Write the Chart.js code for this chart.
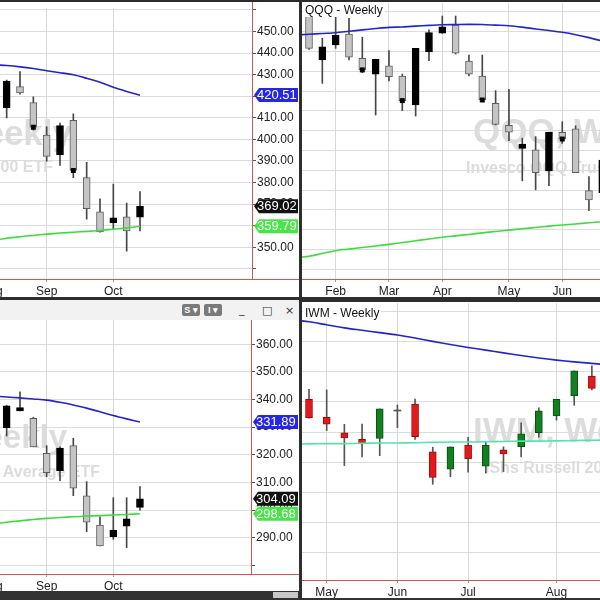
<!DOCTYPE html>
<html><head><meta charset="utf-8">
<script src="https://cdn.jsdelivr.net/npm/chart.js@4.4.1/dist/chart.umd.min.js"></script>
<style>
html,body{margin:0;padding:0;background:#fff;width:600px;height:600px;overflow:hidden;font-family:"Liberation Sans",Arial,sans-serif}
.abs{position:absolute}
canvas{display:block}
.btn{position:absolute;top:304px;height:12px;background:#7a7a7a;color:#fff;font:bold 9px "Liberation Sans",Arial,sans-serif;line-height:12px;border-radius:2px;text-align:center}
.ico{position:absolute;color:#333;font:11px "DejaVu Sans",sans-serif}
</style></head><body>
<div class="abs" style="left:0;top:0;width:299px;height:297px"><canvas id="c1" width="299" height="297"></canvas></div>
<div class="abs" style="left:302px;top:0;width:298px;height:297px"><canvas id="c2" width="298" height="297"></canvas></div>
<div class="abs" style="left:0;top:300px;width:299px;height:291px"><canvas id="c3" width="299" height="291"></canvas></div>
<div class="abs" style="left:302px;top:302px;width:298px;height:296px"><canvas id="c4" width="298" height="296"></canvas></div>

<div class="abs" style="left:0;top:0;width:600px;height:2px;background:#2b2b2b"></div>
<div class="abs" style="left:299px;top:0;width:3px;height:600px;background:#2e2e2e"></div>
<div class="abs" style="left:0;top:297px;width:600px;height:3px;background:#2e2e2e"></div>
<div class="abs" style="left:302px;top:300px;width:298px;height:2px;background:#2e2e2e"></div>
<div class="abs" style="left:0;top:300px;width:299px;height:20px;background:#f2f2f2"></div>
<div class="btn" style="left:182px;width:18px">S ▾</div>
<div class="btn" style="left:204px;width:18px">I ▾</div>
<div class="ico" style="left:239px;top:303px">_</div>
<div class="ico" style="left:262px;top:304px">□</div>
<div class="ico" style="left:285px;top:304px">×</div>
<div class="abs" style="left:0;top:591px;width:299px;height:9px;background:#333"></div>
<div class="abs" style="left:273px;top:592px;width:25px;height:6px;background:#c8c8c8"></div>
<div class="abs" style="left:302px;top:598px;width:298px;height:2px;background:#333"></div>

<script>
const FONT = '"Liberation Sans", Arial, Helvetica, sans-serif';

// ---------- SPY weekly (top-left) ----------
const spyMonthNames = ['Aug', 'Sep', 'Oct'];
const spyMonthWeeks = [-1.1, 3, 8];
const spyOpen  = [414.7, 424.5, 417.1, 402.0, 392.9, 408.8, 382.3, 366.4, 361.4, 364.1, 364.0];
const spyHigh  = [427.5, 431.4, 419.7, 405.8, 407.6, 411.8, 389.4, 372.5, 379.3, 370.5, 375.8];
const spyLow   = [409.9, 420.9, 404.3, 389.9, 387.9, 382.3, 363.0, 357.0, 358.6, 348.2, 357.6];
const spyClose = [427.0, 421.5, 405.6, 392.1, 406.4, 385.6, 367.9, 357.1, 363.6, 357.6, 369.02];
const spyMarks = [2, 5];
const spyMaBlue  = [434.6, 434.2, 433.6, 432.8, 431.8, 430.9, 429.9, 428.3, 426.5, 424.1, 422.2, 420.51]; // weeks -1..10
const spyMaGreen = [353.2, 354.2, 354.9, 355.5, 356.1, 356.6, 357.0, 357.4, 357.8, 358.4, 359.0, 359.79];
const spyAxisLabels = [350, 360, 370, 380, 390, 400, 410, 420, 430, 440, 450];

// ---------- QQQ weekly (top-right) ----------
const qqqMonthNames = ['Feb', 'Mar', 'Apr', 'May', 'Jun'];
const qqqMonthWeeks = [2, 6, 10, 15, 19];
const qqqOpen  = [371.5, 345.7, 353.3, 358.8, 346.6, 338.6, 342.7, 337.6, 323.0, 349.9, 359.2, 363.4, 345.2, 337.6, 323.8, 312.7, 301.1, 300.3, 289.8, 309.2, 310.9, 279.7, 278.7];
const qqqHigh  = [374.0, 356.7, 367.9, 366.8, 357.2, 346.1, 350.4, 338.6, 351.6, 360.9, 367.9, 367.9, 348.2, 348.2, 330.2, 330.9, 306.2, 307.0, 309.2, 314.5, 312.5, 286.8, 297.0];
const qqqLow   = [351.0, 333.9, 351.6, 345.7, 339.3, 317.9, 335.1, 320.1, 317.4, 345.4, 359.2, 348.7, 337.6, 324.6, 312.9, 304.9, 284.7, 280.1, 282.2, 303.6, 288.8, 269.6, 277.0];
const qqqClose = [351.6, 352.4, 358.2, 347.1, 340.7, 346.1, 337.3, 325.2, 351.6, 359.5, 362.5, 349.1, 338.6, 325.5, 313.2, 309.2, 303.3, 288.8, 309.2, 305.8, 288.8, 275.0, 295.2];
const qqqMarks = [4, 7, 13, 19];
const qqqMaBlue  = [358.3, 358.7, 359.1, 359.5, 360.2, 360.9, 361.6, 362.2, 362.4, 362.8, 363.2, 363.5, 363.6, 363.7, 363.6, 363.3, 363.0, 362.3, 361.4, 360.6, 359.7, 358.5, 357.0, 355.3, 353.5]; // weeks -1..23
const qqqMaGreen = [245.9, 246.6, 248.0, 249.4, 250.2, 251.0, 251.8, 252.6, 253.5, 254.4, 255.3, 256.2, 256.9, 257.6, 258.4, 259.1, 259.8, 260.5, 261.1, 261.8, 262.4, 262.9, 263.5, 264.0, 264.5];

// ---------- DIA weekly (bottom-left) ----------
const diaMonthNames = ['Aug', 'Sep', 'Oct'];
const diaMonthWeeks = [-1.1, 3, 8];
const diaOpen  = [329.8, 335.9, 333.2, 320.5, 314.3, 323.3, 305.2, 294.6, 290.4, 294.2, 301.0];
const diaHigh  = [337.9, 342.8, 333.6, 323.3, 322.9, 326.0, 310.3, 297.6, 304.5, 304.5, 308.5];
const diaLow   = [326.8, 335.9, 322.9, 312.1, 310.6, 305.2, 292.2, 287.0, 289.4, 286.4, 300.0];
const diaClose = [337.7, 337.1, 322.9, 313.5, 322.4, 307.9, 295.6, 287.0, 292.8, 296.8, 304.09];
const diaMaBlue  = [341.3, 340.9, 340.6, 340.2, 339.8, 339.0, 338.0, 336.9, 335.6, 334.2, 333.0, 331.89]; // weeks -1..10
const diaMaGreen = [295.0, 295.6, 296.1, 296.6, 297.0, 297.3, 297.6, 297.8, 298.0, 298.2, 298.4, 298.68];
const diaAxisLabels = [290, 300, 310, 320, 330, 340, 350, 360];

// ---------- IWM weekly (bottom-right) ----------
const iwmMonthNames = ['May', 'Jun', 'Jul', 'Aug'];
const iwmMonthWeeks = [1, 5, 9, 14];
const iwmOpen  = [190.9, 184.9, 179.8, 177.6, 177.9, 187.0, 189.3, 173.5, 167.7, 175.7, 168.7, 174.1, 175.2, 179.8, 185.4, 192.1, 198.6];
const iwmHigh  = [194.2, 194.0, 182.6, 182.7, 187.7, 189.0, 191.0, 175.0, 175.1, 178.3, 176.7, 175.1, 183.1, 188.1, 190.9, 200.3, 202.0];
const iwmLow   = [184.6, 180.5, 168.9, 171.8, 172.2, 181.5, 177.6, 162.7, 165.2, 166.7, 166.4, 166.9, 171.8, 178.3, 184.0, 188.9, 194.0];
const iwmClose = [184.8, 182.6, 178.1, 176.1, 187.7, 187.0, 178.5, 165.0, 175.1, 171.2, 175.6, 172.8, 179.4, 187.1, 190.9, 200.3, 194.5];
const iwmMaBlue = [217.3, 216.6, 215.6, 214.6, 213.8, 213.0, 212.2, 211.2, 210.1, 209.1, 208.1, 207.2, 206.3, 205.4, 204.6, 203.9, 203.3, 202.8, 202.3]; // weeks -1..17
const iwmMaTeal = [176.0, 176.1, 176.2, 176.2, 176.3, 176.4, 176.4, 176.5, 176.6, 176.7, 176.7, 176.8, 176.9, 177.0, 177.0, 177.1, 177.2, 177.3, 177.4];

const MONO = {upFill:'#000000', upEdge:'#000000', downFill:'#c4c4c4', downEdge:'#5e5e5e', flat:'#444', wick:'#474747'};
const RG   = {upFill:'#12801f', upEdge:'#0a4f12', downFill:'#e5191b', downEdge:'#9a0d0d', flat:'#555', wick:'#555'};
const BLUE = '#2424cc', GREEN = '#3fdc3f', TEAL = '#55e2ab';

const decor = {
  id: 'decor',
  beforeDatasetsDraw(chart, args, o) {
    const {ctx, chartArea: a} = chart;
    ctx.save();
    ctx.beginPath(); ctx.rect(a.left, a.top, a.right - a.left, a.bottom - a.top); ctx.clip();
    ctx.fillStyle = '#dcdcdc';
    (o.watermarks || []).forEach(w => {
      ctx.font = w.font + ' ' + FONT; ctx.textAlign = w.align; ctx.textBaseline = 'alphabetic';
      ctx.fillText(w.text, w.x, w.y);
    });
    ctx.restore();
  },
  afterDraw(chart, args, o) {
    const {ctx, chartArea: a} = chart;
    const xs = chart.scales.x, ys = chart.scales.y;
    ctx.save();
    ctx.font = '12px ' + FONT; ctx.fillStyle = '#222'; ctx.textAlign = 'center'; ctx.textBaseline = 'middle';
    o.monthWeeks.forEach((v, k) => {
      if (v < xs.min || v > xs.max) ctx.fillText(o.monthNames[k], xs.getPixelForValue(v), a.bottom + 12.2);
    });
    ctx.strokeStyle = '#d9534f'; ctx.lineWidth = 1;
    const by = Math.round(a.bottom) + 0.5;
    ctx.beginPath(); ctx.moveTo(0, by); ctx.lineTo(chart.width, by);
    if (o.rightFrame) { const rx = Math.round(a.right) + 0.5; ctx.moveTo(rx, o.frameTop); ctx.lineTo(rx, by); }
    ctx.stroke();
    (o.boxes || []).forEach(b => {
      const py = ys.getPixelForValue(b.value);
      const x0 = a.right + 2, x1 = chart.width - 1, h = 7;
      ctx.fillStyle = b.bg; ctx.beginPath();
      ctx.moveTo(x0, py); ctx.lineTo(x0 + 5, py - h); ctx.lineTo(x1, py - h); ctx.lineTo(x1, py + h); ctx.lineTo(x0 + 5, py + h);
      ctx.closePath(); ctx.fill();
      ctx.fillStyle = b.fg; ctx.font = '13px ' + FONT; ctx.textAlign = 'left'; ctx.textBaseline = 'middle';
      ctx.fillText(b.value.toFixed(2), x0 + 3, py + 0.5);
    });
    if (o.title) {
      ctx.font = '12px ' + FONT;
      const w = ctx.measureText(o.title.text).width;
      ctx.fillStyle = '#fff'; ctx.fillRect(o.title.x - 2, a.top, w + 4, o.title.y + 3 - a.top);
      ctx.fillStyle = '#111'; ctx.textAlign = 'left'; ctx.textBaseline = 'alphabetic';
      ctx.fillText(o.title.text, o.title.x, o.title.y);
    }
    ctx.restore();
  }
};
Chart.register(decor);

function panel(id, p) {
  const idx = p.open.map((_, i) => i);
  const kind = i => p.close[i] > p.open[i] ? 'up' : (p.close[i] < p.open[i] ? 'down' : 'flat');
  const fill = {up: p.c.upFill, down: p.c.downFill, flat: p.c.flat};
  const edge = {up: p.c.upEdge, down: p.c.downEdge, flat: p.c.flat};
  const datasets = [
    {type: 'bar', data: idx.map(i => ({x: i, y: [p.low[i], p.high[i]]})), backgroundColor: p.c.wick,
     barThickness: 1, grouped: false, clip: 0, order: 5},
    {type: 'bar', data: idx.map(i => ({x: i, y: [p.open[i], p.close[i]]})),
     backgroundColor: idx.map(i => fill[kind(i)]), borderColor: idx.map(i => edge[kind(i)]),
     borderWidth: idx.map(i => kind(i) === 'flat' ? 0 : 1), borderSkipped: false,
     barThickness: 7, minBarLength: 1, grouped: false, clip: 0, order: 4}
  ];
  if (p.marks) datasets.push({type: 'line', data: p.marks.map(i => ({x: i, y: p.close[i]})), showLine: false,
     pointStyle: 'rect', pointRadius: 3.5, pointBorderWidth: 0, pointBackgroundColor: '#000', clip: 0, order: 3});
  p.lines.forEach(l => datasets.push({type: 'line', data: l.values.map((v, k) => ({x: k + l.start, y: v})),
     borderColor: l.color, borderWidth: 1.6, pointRadius: 0, tension: 0.3, clip: 0, order: 2}));
  const near = (v, arr) => arr.some(a => Math.abs(a - v) < 1e-6);
  return new Chart(document.getElementById(id), {
    type: 'bar',
    data: {datasets},
    options: {
      responsive: false, animation: false, events: [],
      layout: {autoPadding: false, padding: {top: p.padTop, left: 0, right: 0, bottom: 0}},
      plugins: {legend: {display: false}, tooltip: {enabled: false}, decor: p.decor},
      scales: {
        x: {type: 'linear', min: p.xMin, max: p.xMax, offset: false,
            grid: {offset: false, color: '#d9d9d9', drawTicks: true, tickLength: 3, tickColor: '#9a9a9a'},
            border: {display: false},
            ticks: {autoSkip: false, maxRotation: 0, minRotation: 0, padding: 2, color: '#222', font: {size: 12, family: FONT},
                    callback: v => { const k = p.monthWeeks.findIndex(m => Math.abs(m - v) < 1e-6); return k >= 0 ? p.monthNames[k] : ''; }},
            afterBuildTicks: s => { s.ticks = p.monthWeeks.filter(v => v >= p.xMin && v <= p.xMax).map(v => ({value: v})); },
            afterFit: s => { s.height = p.xAxisH; }},
        y: {type: 'linear', position: 'right', min: p.yMin, max: p.yMax,
            grid: {color: '#dcdcdc', drawTicks: p.showY, tickLength: 4, tickColor: '#555'},
            border: {display: false},
            ticks: {display: p.showY, stepSize: 10, includeBounds: false, padding: 1, color: '#222', font: {size: 12, family: FONT},
                    callback: v => (p.yLabels && near(v, p.yLabels)) ? v.toFixed(2) : ''},
            afterFit: s => { s.width = p.yAxisW; }}
      }
    }
  });
}

panel('c1', {
  open: spyOpen, high: spyHigh, low: spyLow, close: spyClose, marks: spyMarks, c: MONO,
  lines: [{values: spyMaBlue, start: -1, color: BLUE}, {values: spyMaGreen, start: -1, color: GREEN}],
  monthNames: spyMonthNames, monthWeeks: spyMonthWeeks, yLabels: spyAxisLabels,
  xMin: -0.5, xMax: 18.4, yMin: 335.32, yMax: 460.77, padTop: 3, xAxisH: 18, yAxisW: 47, showY: true,
  decor: {monthNames: spyMonthNames, monthWeeks: spyMonthWeeks, rightFrame: true, frameTop: 0,
    watermarks: [{text: 'SPY, Weekly', font: 'bold 35px', align: 'right', x: 72, y: 145},
                 {text: 'SPDR S&P 500 ETF', font: 'bold 16px', align: 'right', x: 53, y: 172}],
    boxes: [{value: spyMaBlue[spyMaBlue.length - 1], bg: '#2626e8', fg: '#fff'},
            {value: spyClose[spyClose.length - 1], bg: '#111', fg: '#fff'},
            {value: spyMaGreen[spyMaGreen.length - 1], bg: '#46e646', fg: '#fff'}]}
});

panel('c2', {
  open: qqqOpen, high: qqqHigh, low: qqqLow, close: qqqClose, marks: qqqMarks, c: MONO,
  lines: [{values: qqqMaBlue, start: -1, color: BLUE}, {values: qqqMaGreen, start: -1, color: GREEN}],
  monthNames: qqqMonthNames, monthWeeks: qqqMonthWeeks, yLabels: null,
  xMin: -0.525, xMax: 21.83, yMin: 235.1, yMax: 374.49, padTop: 3, xAxisH: 18, yAxisW: 0, showY: false,
  decor: {monthNames: qqqMonthNames, monthWeeks: qqqMonthWeeks, rightFrame: false, frameTop: 0,
    watermarks: [{text: 'QQQ, Weekly', font: 'bold 35px', align: 'left', x: 171, y: 143},
                 {text: 'Invesco QQQ Trust, Series 1', font: 'bold 16px', align: 'left', x: 164, y: 173}],
    boxes: [], title: {text: 'QQQ - Weekly', x: 3, y: 14}}
});

panel('c3', {
  open: diaOpen, high: diaHigh, low: diaLow, close: diaClose, marks: null, c: MONO,
  lines: [{values: diaMaBlue, start: -1, color: BLUE}, {values: diaMaGreen, start: -1, color: GREEN}],
  monthNames: diaMonthNames, monthWeeks: diaMonthWeeks, yLabels: diaAxisLabels,
  xMin: -0.5, xMax: 18.33, yMin: 276.87, yMax: 368.79, padTop: 20, xAxisH: 17, yAxisW: 48, showY: true,
  decor: {monthNames: diaMonthNames, monthWeeks: diaMonthWeeks, rightFrame: true, frameTop: 20,
    watermarks: [{text: 'DIA, Weekly', font: 'bold 33px', align: 'right', x: 67, y: 148},
                 {text: 'SPDR Dow Jones Industrial Average ETF', font: 'bold 16px', align: 'right', x: 100, y: 177}],
    boxes: [{value: diaMaBlue[diaMaBlue.length - 1], bg: '#2626e8', fg: '#fff'},
            {value: diaClose[diaClose.length - 1], bg: '#111', fg: '#fff'},
            {value: diaMaGreen[diaMaGreen.length - 1], bg: '#46e646', fg: '#fff'}]}
});

panel('c4', {
  open: iwmOpen, high: iwmHigh, low: iwmLow, close: iwmClose, marks: null, c: RG,
  lines: [{values: iwmMaBlue, start: -1, color: BLUE}, {values: iwmMaTeal, start: -1, color: TEAL}],
  monthNames: iwmMonthNames, monthWeeks: iwmMonthWeeks, yLabels: null,
  xMin: -0.396, xMax: 16.46, yMin: 130.94, yMax: 222.84, padTop: 1, xAxisH: 18, yAxisW: 0, showY: false,
  decor: {monthNames: iwmMonthNames, monthWeeks: iwmMonthWeeks, rightFrame: false, frameTop: 0,
    watermarks: [{text: 'IWM, Weekly', font: 'bold 35px', align: 'left', x: 171, y: 140},
                 {text: 'iShs Russell 2000 ETF', font: 'bold 16px', align: 'left', x: 183, y: 171}],
    boxes: [], title: {text: 'IWM - Weekly', x: 3, y: 14.5}}
});
</script>
</body></html>
